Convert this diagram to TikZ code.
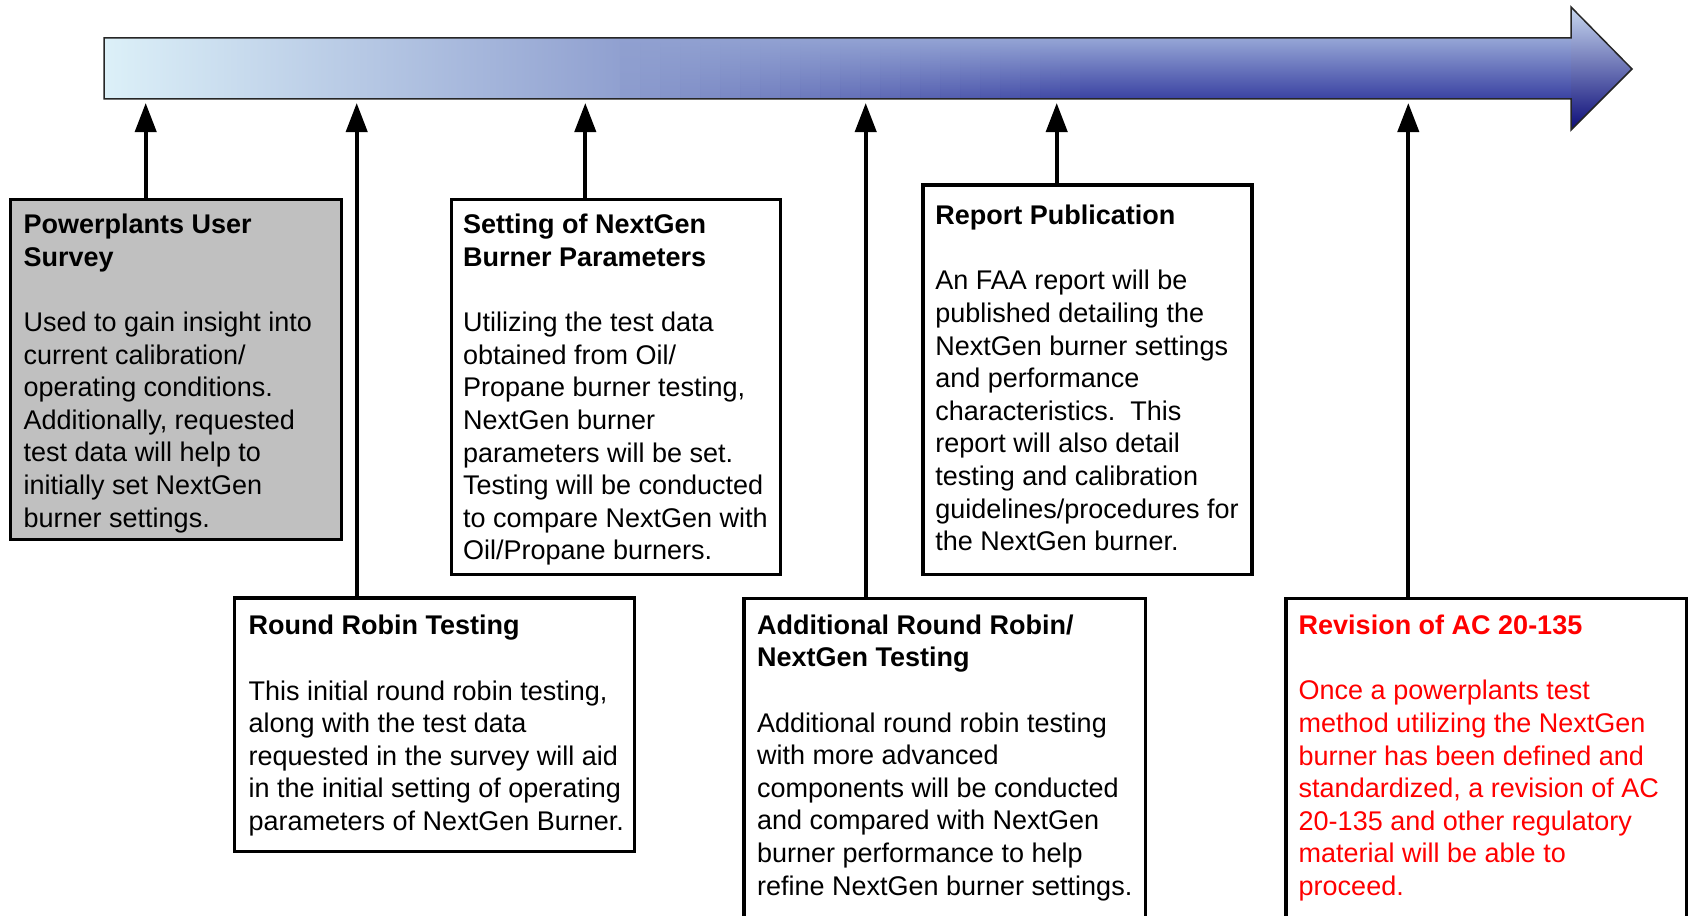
\documentclass[tikz,border=0pt]{standalone}
\usepackage{fontspec}
\setmainfont{Liberation Sans}
\usetikzlibrary{arrows.meta}

\definecolor{barlight}{HTML}{DCF0F8}
\definecolor{barmid}{HTML}{90A0D0}
\definecolor{bartop}{HTML}{96A6D6}
\definecolor{barbottom}{HTML}{3A42A2}
\definecolor{headtop}{HTML}{C8D8F0}
\definecolor{headbottom}{HTML}{0C0C78}
\definecolor{surveygray}{HTML}{C0C0C0}
\definecolor{revisionred}{HTML}{FF0000}

\begin{document}
\begin{tikzpicture}[x=0.5pt, y=-0.5pt,
        box/.style={draw, line width=1.7pt, fill=white, anchor=north west, inner sep=0pt, outer sep=0pt},
        txt/.style={anchor=north west, inner sep=0pt, align=left, font=\fontsize{13.5}{16.3}\selectfont},
        up/.style={line width=2pt, -{Triangle[length=14.5pt, width=10.5pt]}}]
        \useasboundingbox (0,0) rectangle (1689,915);
        % timeline arrow
        \shade[left color=barlight, right color=barmid] (104,38) rectangle (622,99);
        \fill[barmid] (620,38) rectangle (1571,99);
        \foreach \i in {0,...,23}
            \shade[top color=bartop, bottom color=barbottom, opacity=(\i+1)/24]
                (620+20*\i,38) rectangle (640+20*\i,99);
        \shade[top color=bartop, bottom color=barbottom] (1099,38) rectangle (1571,99);
        \shade[top color=headtop, bottom color=headbottom]
            (1571,7) -- (1632,69) -- (1571,130) -- cycle;
        \draw[line width=0.75pt, black!85, line join=miter]
            (104,38) -- (1571,38) -- (1571,7) -- (1632,69) -- (1571,130)
            -- (1571,99) -- (104,99) -- cycle;
        \coordinate (t1) at (145.7,103);
        \coordinate (t2) at (356.7,103);
        \coordinate (t3) at (585.3,103);
        \coordinate (t4) at (865.7,103);
        \coordinate (t5) at (1056.7,103);
        \coordinate (t6) at (1408.3,103);
        % boxes
        \node[box, fill=surveygray, minimum width=165.4pt, minimum height=170.1pt] (survey) at (10.5,199.5) {};
        \node[box, minimum width=200.2pt, minimum height=126.75pt] (robin) at (234.3,597.8) {};
        \node[box, minimum width=164.5pt, minimum height=187.5pt] (setting) at (451.3,199.5) {};
        \node[box, minimum width=200.75pt, minimum height=171pt] (additional) at (743.8,598.3) {};
        \node[box, minimum width=164.6pt, minimum height=194.85pt] (report) at (922.8,184.8) {};
        \node[box, minimum width=200.25pt, minimum height=171pt] (revision) at (1285.8,598.3) {};
        % texts
        \node[txt] (survey text) at (23.3,213.7)
            {\textbf{Powerplants User}\\ \textbf{Survey}\\[16.3pt]
            Used to gain insight into\\ current calibration/\\ operating conditions.\\
            Additionally, requested\\ test data will help to\\ initially set NextGen\\
            burner settings.};
        \node[txt] (robin text) at (248.3,615)
            {\textbf{Round Robin Testing}\\[16.3pt]
            This initial round robin testing,\\ along with the test data\\
            requested in the survey will aid\\ in the initial setting of operating\\
            parameters of NextGen Burner.};
        \node[txt] (setting text) at (462.7,214)
            {\textbf{Setting of NextGen}\\ \textbf{Burner Parameters}\\[16.3pt]
            Utilizing the test data\\ obtained from Oil/\\ Propane burner testing,\\
            NextGen burner\\ parameters will be set.\\ Testing will be conducted\\
            to compare NextGen with\\ Oil/Propane burners.};
        \node[txt] (additional text) at (756.7,614.3)
            {\textbf{Additional Round Robin/}\\ \textbf{NextGen Testing}\\[16.3pt]
            Additional round robin testing\\ with more advanced\\
            components will be conducted\\ and compared with NextGen\\
            burner performance to help\\ refine NextGen burner settings.};
        \node[txt] (report text) at (935,204.7)
            {\textbf{Report Publication}\\[16.3pt]
            An FAA report will be\\ published detailing the\\ NextGen burner settings\\
            and performance\\ characteristics.\ \ This\\ report will also detail\\
            testing and calibration\\ guidelines/procedures for\\ the NextGen burner.};
        \node[txt, text=revisionred] (revision text) at (1298.3,614.7)
            {\textbf{Revision of AC 20-135}\\[16.3pt]
            Once a powerplants test\\ method utilizing the NextGen\\
            burner has been defined and\\ standardized, a revision of AC\\
            20-135 and other regulatory\\ material will be able to\\ proceed.};
        % connectors
        \draw[up] (t1 |- survey.north) -- (t1);
        \draw[up] (t2 |- robin.north) -- (t2);
        \draw[up] (t3 |- setting.north) -- (t3);
        \draw[up] (t4 |- additional.north) -- (t4);
        \draw[up] (t5 |- report.north) -- (t5);
        \draw[up] (t6 |- revision.north) -- (t6);
\end{tikzpicture}
\end{document}
